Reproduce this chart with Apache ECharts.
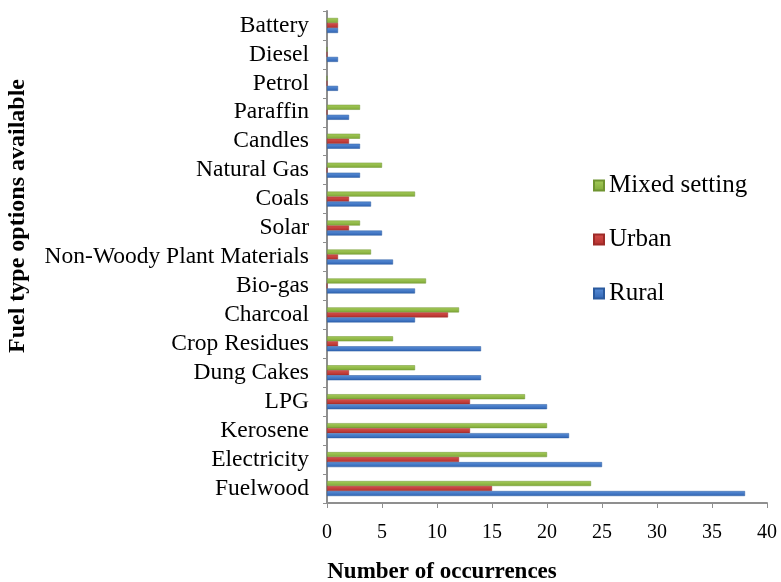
<!DOCTYPE html>
<html>
<head>
<meta charset="utf-8">
<script src="https://cdn.jsdelivr.net/npm/echarts@6/dist/echarts.min.js"></script>
<style>
  html, body { margin: 0; padding: 0; background: #fff; }
  #chart { width: 781px; height: 582px; }
</style>
</head>
<body>
<div id="chart"></div>
<script>
// fuel types, bottom to top as the category axis runs
var categories = ['Fuelwood', 'Electricity', 'Kerosene', 'LPG', 'Dung Cakes', 'Crop Residues', 'Charcoal', 'Bio-gas',
  'Non-Woody Plant Materials', 'Solar', 'Coals', 'Natural Gas', 'Candles', 'Paraffin', 'Petrol', 'Diesel', 'Battery'];
var rural = [38, 25, 22, 20, 14, 14, 8, 8, 6, 5, 4, 3, 3, 2, 1, 1, 1];
var urban = [15, 12, 13, 13, 2, 1, 11, 0, 1, 2, 2, 0, 2, 0, 0, 0, 1];
var mixed = [24, 20, 20, 18, 8, 6, 12, 9, 4, 3, 8, 5, 3, 3, 0, 0, 1];
var xTicks = [0, 5, 10, 15, 20, 25, 30, 35, 40];

(function() {
  var serif = 'Liberation Serif';
  var axisGray = '#8f8f8f';

  function barFill(top, bottom) {
    return new echarts.graphic.LinearGradient(0, 0, 0, 1, [
      { offset: 0, color: top },
      { offset: 1, color: bottom }
    ]);
  }

  var chart = echarts.init(document.getElementById('chart'), null, { renderer: 'canvas' });
  chart.setOption({
    animation: false,
    grid: { left: 327, right: 14, top: 11, bottom: 79, containLabel: false, outerBoundsMode: 'none' },
    legend: {
      orient: 'vertical',
      left: 588,
      top: 168,
      itemWidth: 10,
      itemHeight: 10,
      itemGap: 29,
      icon: 'rect',
      data: ['Mixed setting', 'Urban', 'Rural'],
      textStyle: { fontFamily: serif, fontSize: 25, color: '#000' }
    },
    xAxis: {
      type: 'value',
      min: xTicks[0],
      max: xTicks[xTicks.length - 1],
      interval: xTicks[1] - xTicks[0],
      name: 'Number of occurrences',
      nameLocation: 'middle',
      nameGap: 58,
      nameTextStyle: { fontFamily: serif, fontSize: 23, fontWeight: 'bold', color: '#000', padding: [0, 210, 0, 0] },
      axisLine: { show: true, lineStyle: { color: axisGray, width: 2 } },
      axisTick: { show: true, length: 5, lineStyle: { color: axisGray } },
      axisLabel: { fontFamily: serif, fontSize: 20, color: '#000', margin: 20 },
      splitLine: { show: false }
    },
    yAxis: {
      type: 'category',
      data: categories,
      name: 'Fuel type options available',
      nameLocation: 'middle',
      nameGap: 297,
      nameRotate: 90,
      nameTextStyle: { fontFamily: serif, fontSize: 24, fontWeight: 'bold', color: '#000', padding: [0, 0, 0, 82] },
      axisLine: { show: true, lineStyle: { color: axisGray, width: 2 } },
      axisTick: { show: true, length: 4, lineStyle: { color: axisGray } },
      axisLabel: { fontFamily: serif, fontSize: 23.5, color: '#000', margin: 18, interval: 0 }
    },
    series: [
      {
        name: 'Mixed setting', type: 'bar', data: mixed, barWidth: 5, barGap: '0%',
        itemStyle: { color: barFill('#a6cc5a', '#7fa838'), borderColor: '#6f9430', borderWidth: 0.5 }
      },
      {
        name: 'Urban', type: 'bar', data: urban, barWidth: 5, barGap: '0%',
        itemStyle: { color: barFill('#d6504c', '#b12f2c'), borderColor: '#9e2b28', borderWidth: 0.5 }
      },
      {
        name: 'Rural', type: 'bar', data: rural, barWidth: 5, barGap: '0%',
        itemStyle: { color: barFill('#5a8fd8', '#2f63b2'), borderColor: '#2b5a9e', borderWidth: 0.5 }
      }
    ]
  });
  window.addEventListener('resize', function() { chart.resize(); });
})();
</script>
</body>
</html>
